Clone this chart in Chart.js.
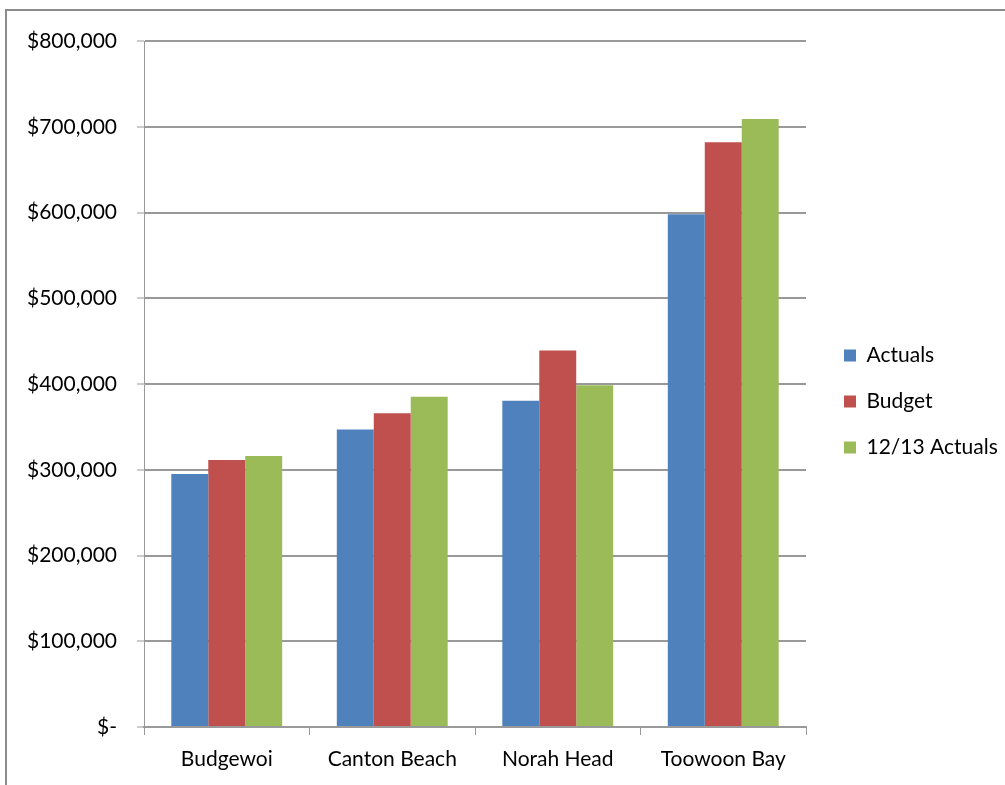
<!DOCTYPE html>
<html>
<head>
<meta charset="utf-8">
<title>Revenue by location</title>
<script src="https://cdn.jsdelivr.net/npm/chart.js@4.4.1/dist/chart.umd.min.js"></script>
<style>
  html, body { margin: 0; padding: 0; background: #ffffff; overflow: hidden; }
  #wrap { position: relative; width: 1005px; height: 785px; overflow: hidden; }
  #frame { position: absolute; left: 5px; top: 9px; width: 1020px; height: 800px;
           border: 2px solid #8c8c8c; box-sizing: border-box; }
  #c { position: absolute; left: 0; top: 0; }
</style>
</head>
<body>
<div id="wrap">
  <div id="frame"></div>
  <canvas id="c" width="1005" height="785"></canvas>
</div>
<script>
// Locations along the category axis
const categories = ['Budgewoi', 'Canton Beach', 'Norah Head', 'Toowoon Bay'];

// Series values (dollars)
const actuals      = [295000, 347000, 380500, 598000];
const budget       = [311500, 366000, 439000, 682000];
const actuals1213  = [316000, 385000, 398500, 709000];

const seriesNames  = ['Actuals', 'Budget', '12/13 Actuals'];
const seriesColors = ['#4F81BD', '#C0504D', '#9BBB59'];

// Value axis labels, bottom to top
const yTickLabels = ['$-', '$100,000', '$200,000', '$300,000', '$400,000',
                     '$500,000', '$600,000', '$700,000', '$800,000'];

const FONT = 'Lato';
const GRID = '#999999';

const datasets = [actuals, budget, actuals1213].map((vals, i) => ({
  label: seriesNames[i],
  data: vals,
  backgroundColor: seriesColors[i],
  borderWidth: 0,
  categoryPercentage: 0.67,
  barPercentage: 1.0
}));

new Chart(document.getElementById('c'), {
  type: 'bar',
  data: { labels: categories, datasets },
  options: {
    responsive: false,
    animation: false,
    layout: { padding: { top: 41, left: 0, right: 0, bottom: 0 } },
    plugins: {
      tooltip: { enabled: false },
      title: { display: false },
      legend: {
        position: 'right',
        align: 'start',
        maxWidth: 186,
        // blank legend title used only as top spacing for the key
        title: {
          display: true,
          text: '',
          font: { family: FONT, size: 10, lineHeight: 1 },
          padding: { top: 269, bottom: 0 }
        },
        labels: {
          boxWidth: 12,
          boxHeight: 12,
          padding: 25,
          color: '#000000',
          font: { family: FONT, size: 21 }
        }
      }
    },
    scales: {
      x: {
        grid: {
          offset: true,
          drawOnChartArea: false,
          drawTicks: true,
          tickLength: 8,
          tickWidth: 1,
          tickColor: GRID
        },
        border: { display: true, color: GRID, width: 2 },
        ticks: {
          color: '#000000',
          padding: 12,
          maxRotation: 0,
          font: { family: FONT, size: 21 }
        },
        afterFit: (s) => { s.height = 58; }
      },
      y: {
        min: 0,
        max: 800000,
        grid: {
          color: GRID,
          lineWidth: 2,
          drawTicks: true,
          tickLength: 7,
          tickWidth: 1,
          tickColor: GRID
        },
        border: { display: true, color: GRID, width: 1 },
        ticks: {
          stepSize: 100000,
          color: '#000000',
          padding: 20,
          font: { family: FONT, size: 21 },
          callback: (v, i) => yTickLabels[i]
        },
        afterFit: (s) => { s.width = 144; }
      },
      // empty spacer between the plot and the legend
      gap: {
        type: 'linear',
        position: 'right',
        display: true,
        grid: { display: false, drawTicks: false },
        border: { display: false },
        ticks: { display: false },
        afterFit: (s) => { s.width = 13; }
      }
    }
  }
});
</script>
</body>
</html>
